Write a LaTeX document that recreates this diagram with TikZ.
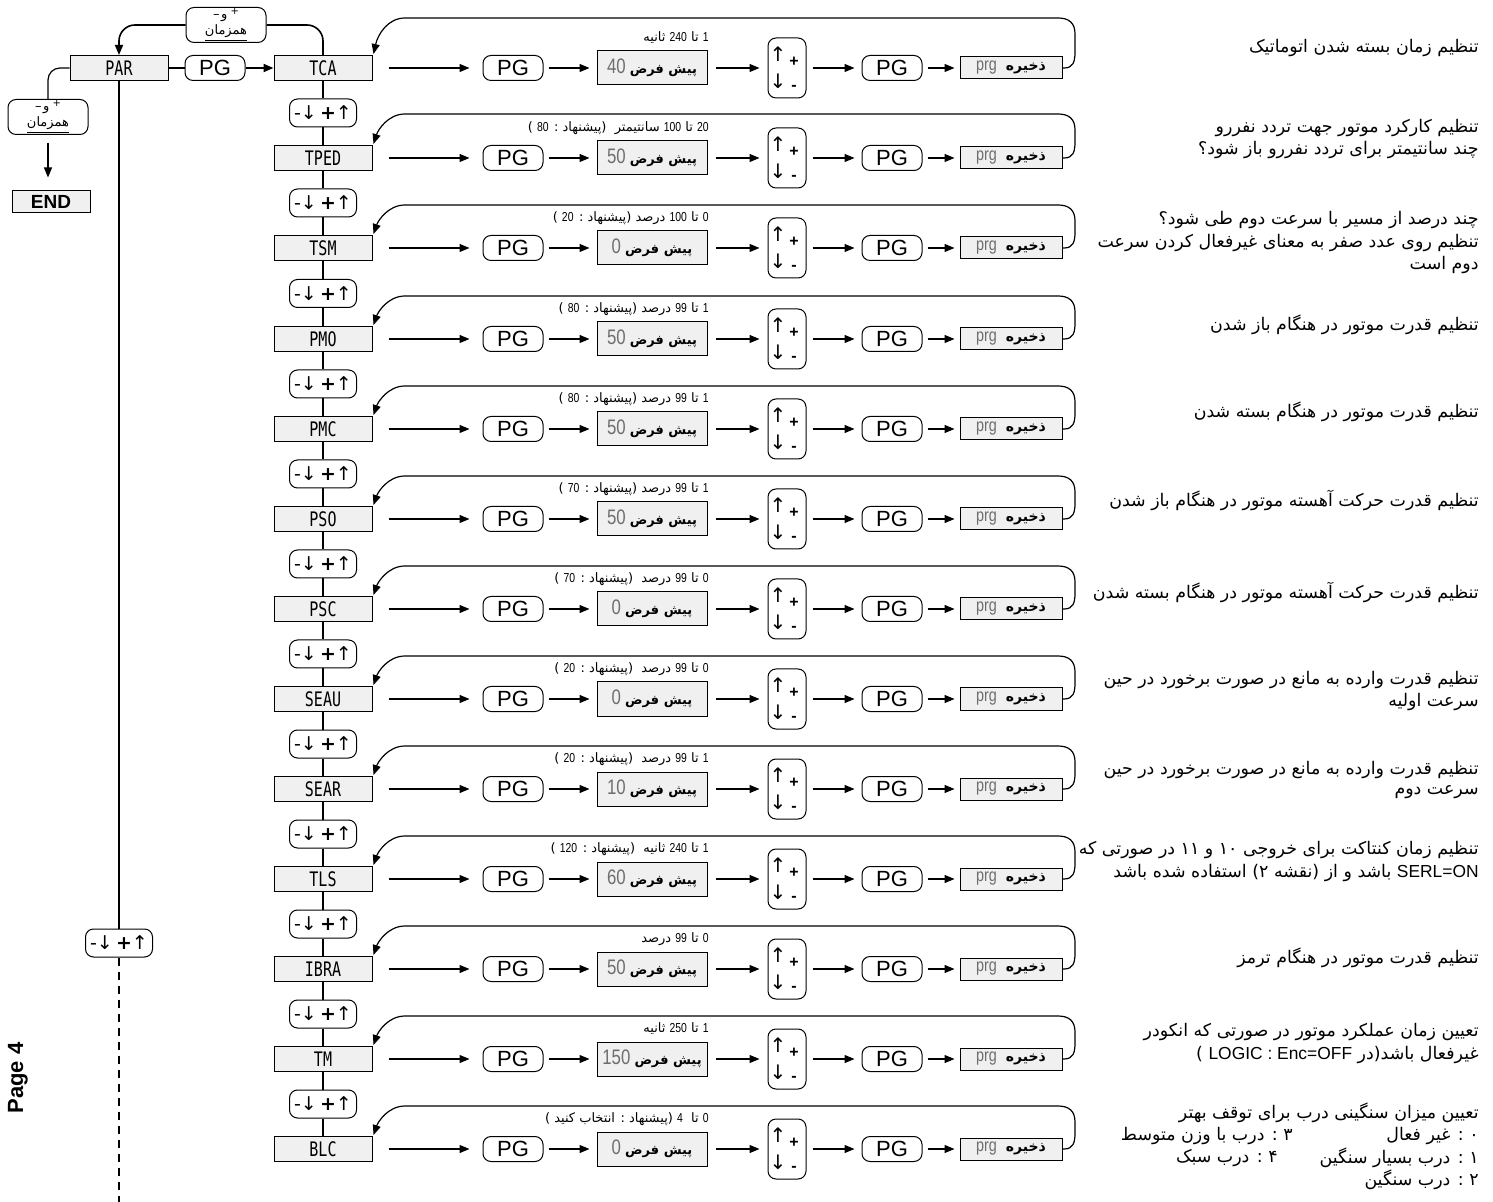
\documentclass[tikz,border=0pt]{standalone}
\usepackage{fontspec}
\usetikzlibrary{arrows.meta,calc}
\setmainfont{Liberation Sans}
\newfontfamily\fa[Script=Arabic]{DejaVu Sans}
\newfontfamily\sym{DejaVu Sans}
\newfontfamily\segf[FakeStretch=0.75]{DejaVu Sans Mono}
\newfontfamily\numf[FakeStretch=0.8]{Liberation Sans}
\TeXXeTstate=1
\newcommand\R[1]{\beginR #1\endR}
\newcommand\nm[1]{{\numf #1}}
\newcommand\syncline{\hbox{\sym –}\hspace{0.8pt}\hbox{\fa و}\hspace{1.5pt}\hbox{\sym\raisebox{2pt}{\fontsize{5}{5}\selectfont +}}}
\definecolor{boxfill}{HTML}{F0F0F0}
\definecolor{numgray}{HTML}{6E6E6E}
\tikzset{
  mainbox/.style={draw, line width=0.5pt, fill=boxfill, minimum width=49pt, minimum height=12.5pt, inner sep=0pt, font=\segf\fontsize{10}{10}\selectfont},
  pgbox/.style={draw, line width=0.5pt, rounded corners=4pt, minimum width=30pt, minimum height=12.5pt, inner sep=0pt, font=\fontsize{11}{11}\selectfont},
  defbox/.style={draw, line width=0.5pt, fill=boxfill, minimum width=55pt, minimum height=17pt, inner sep=0pt, font=\fa\fontsize{6.5}{7}\selectfont},
  udbox/.style={draw, line width=0.5pt, rounded corners=4pt, minimum width=19pt, minimum height=30pt, inner sep=0pt},
  udsym/.style={inner sep=0pt, font=\sym\fontsize{10}{10}\selectfont},
  udsign/.style={inner sep=0pt, font=\bfseries\fontsize{8}{8}\selectfont},
  prgbox/.style={draw, line width=0.5pt, fill=boxfill, minimum width=51pt, minimum height=11pt, inner sep=0pt, font=\fa\fontsize{7}{7}\selectfont},
  kbox/.style={draw, line width=0.5pt, fill=white, rounded corners=4pt, minimum width=33.5pt, minimum height=14pt, inner sep=0pt, font=\sym\fontsize{9.5}{9.5}\selectfont},
  syncbox/.style={draw, line width=0.5pt, fill=white, rounded corners=4pt, minimum width=40pt, minimum height=17.5pt, inner sep=0pt, align=center, font=\fa\fontsize{6.5}{8}\selectfont},
  labf/.style={inner sep=0pt, anchor=east, font=\fa\fontsize{6.5}{7}\selectfont},
  desc/.style={inner sep=0pt, anchor=east, font=\fa\fontsize{8.7}{11}\selectfont},
  arr/.style={-{Triangle[length=5pt,width=4pt]}, line width=0.6pt},
  vline/.style={line width=1pt},
}
% #1 idx, #2 y, #3 name, #4 label, #5 default, #6 top of loop
\newcommand\flowrow[6]{%
  \node[mainbox] (m#1) at (323,#2) {#3};
  \node[pgbox] (pa#1) at (513,#2) {PG};
  \node[defbox] (df#1) at (652,#2) {{\numf\color{numgray}\fontsize{10.5}{10.5}\selectfont #5}\ \R{\bfseries پیش فرض}};
  \node[udbox] (ud#1) at (787,#2) {};
  \node[udsym] (ua#1) at ([shift={(-9,-14)}]ud#1.center) {↑};
  \node[udsym] (ub#1) at ([shift={(-9,13)}]ud#1.center) {↓};
  \node[udsign] (up#1) at ([shift={(7,-6)}]ud#1.center) {+};
  \node[udsign] (um#1) at ([shift={(7,20)}]ud#1.center) {-};
  \node[pgbox] (pb#1) at (892,#2) {PG};
  \node[prgbox] (g#1) at (1011,#2) {{\numf\color{numgray}\fontsize{9}{9}\selectfont prg}\ \ \R{\bfseries ذخیره}};
  \node[labf] (lb#1) at (709,#2-30) {#4};
  \draw[arr, shorten <=8pt, shorten >=6.5pt] (m#1) -- (pa#1);
  \draw[arr, shorten <=2.5pt, shorten >=3.5pt] (pa#1) -- (df#1);
  \draw[arr, shorten <=4pt, shorten >=4pt] (df#1) -- (ud#1);
  \draw[arr, shorten <=3pt, shorten >=3.5pt] (ud#1) -- (pb#1);
  \draw[arr, shorten <=2.5pt, shorten >=2.5pt] (pb#1) -- (g#1);
  \draw[arr] (g#1.east) -- (1064,#2) .. controls (1073,#2) and (1075,#2-6) .. (1075,#2-16)
     -- (1075,#6+16) .. controls (1075,#6+5) and (1069,#6) .. (1058,#6)
     -- (405,#6) .. controls (388,#6) and (378,#6+16) .. ([shift={(1,-1)}]m#1.north east);
}
\begin{document}
\begin{tikzpicture}[x=0.5pt,y=-0.5pt]
\useasboundingbox (0,0) rectangle (1493,1202);
% left column
\node[mainbox] (par) at (119,68) {PAR};
\node[pgbox] (pg0) at (215,68) {PG};
\node[syncbox] (sync1) at (226,25) {\syncline\\\underline{همزمان}};
\node[syncbox] (sync2) at (48,117) {\syncline\\\underline{همزمان}};
\node[draw, line width=0.5pt, fill=boxfill, minimum width=39pt, minimum height=11pt, inner sep=0pt, font=\bfseries\fontsize{9.5}{9.5}\selectfont] (end) at (51,202) {END};
\node[kbox] (k0) at (119,943) {-↓\,\textbf{+}↑};
\coordinate (bot) at (119,1202);
\node[rotate=90, inner sep=0pt, font=\bfseries\fontsize{11}{11}\selectfont] (page) at (18,1078) {Page 4};

% rows
\flowrow{1}{68}{TCA}{\R{\nm{1} تا \nm{240} ثانیه}}{40}{18}
\flowrow{2}{158}{TPED}{\R{\nm{20} تا \nm{100} سانتیمتر \ (پیشنهاد : \nm{80} )}}{50}{114}
\flowrow{3}{248}{TSM}{\R{\nm{0} تا \nm{100} درصد (پیشنهاد : \nm{20} )}}{0}{205}
\flowrow{4}{339}{PMO}{\R{\nm{1} تا \nm{99} درصد (پیشنهاد : \nm{80} )}}{50}{296}
\flowrow{5}{429}{PMC}{\R{\nm{1} تا \nm{99} درصد (پیشنهاد : \nm{80} )}}{50}{386}
\flowrow{6}{519}{PSO}{\R{\nm{1} تا \nm{99} درصد (پیشنهاد : \nm{70} )}}{50}{476}
\flowrow{7}{609}{PSC}{\R{\nm{0} تا \nm{99} درصد \ (پیشنهاد : \nm{70} )}}{0}{566}
\flowrow{8}{699}{SEAU}{\R{\nm{0} تا \nm{99} درصد \ (پیشنهاد : \nm{20} )}}{0}{656}
\flowrow{9}{789}{SEAR}{\R{\nm{1} تا \nm{99} درصد \ (پیشنهاد : \nm{20} )}}{10}{746}
\flowrow{10}{879}{TLS}{\R{\nm{1} تا \nm{240} ثانیه \ (پیشنهاد : \nm{120} )}}{60}{836}
\flowrow{11}{969}{IBRA}{\R{\nm{0} تا \nm{99} درصد}}{50}{926}
\flowrow{12}{1059}{TM}{\R{\nm{1} تا \nm{250} ثانیه}}{150}{1016}
\flowrow{13}{1149}{BLC}{\R{\nm{0} تا \ \nm{4} (پیشنهاد : انتخاب کنید )}}{0}{1106}

% main column key boxes and line
\foreach \i [evaluate=\i as \j using int(\i+1)] in {1,...,12} {
  \node[kbox] (k\i) at ($(m\i)!0.5!(m\j)$) {-↓\,\textbf{+}↑};
  \draw[vline] (m\i) -- (k\i);
  \draw[vline] (k\i) -- (m\j);
}

% left column connectors
\draw[vline] (par) -- (pg0);
\draw[vline, -{Triangle[length=5pt,width=4pt]}] (pg0) -- (m1);
\draw[line width=0.8pt, rounded corners=8pt] (m1.north) |- (sync1.east);
\draw[line width=0.8pt, rounded corners=8pt, -{Triangle[length=5pt,width=4pt]}] (sync1.west) -| (par.north);
\draw[line width=0.6pt, rounded corners=6pt] (par.west) -| (sync2.north);
\draw[arr, shorten <=4pt, shorten >=6.5pt] (sync2.south) -- (sync2.south |- end.north);
\draw[vline] (par) -- (k0);
\draw[line width=0.6pt, dash pattern=on 4pt off 3pt] (k0) -- (bot);

% descriptions
\node[desc] (d1a) at (1479,48) {\R{تنظیم زمان بسته شدن اتوماتیک}};
\node[desc] (d2a) at (1479,128) {\R{تنظیم کارکرد موتور جهت تردد نفررو}};
\node[desc] (d2b) at (1479,150) {\R{چند سانتیمتر برای تردد نفررو باز شود؟}};
\node[desc] (d3a) at (1479,220) {\R{چند درصد از مسیر با سرعت دوم طی شود؟}};
\node[desc] (d3b) at (1479,243) {\R{تنظیم روی عدد صفر به معنای غیرفعال کردن سرعت}};
\node[desc] (d3c) at (1479,265) {\R{دوم است}};
\node[desc] (d4a) at (1479,325) {\R{تنظیم قدرت موتور در هنگام باز شدن}};
\node[desc] (d5a) at (1479,412) {\R{تنظیم قدرت موتور در هنگام بسته شدن}};
\node[desc] (d6a) at (1479,500) {\R{تنظیم قدرت حرکت آهسته موتور در هنگام باز شدن}};
\node[desc] (d7a) at (1479,592) {\R{تنظیم قدرت حرکت آهسته موتور در هنگام بسته شدن}};
\node[desc] (d8a) at (1479,680) {\R{تنظیم قدرت وارده به مانع در صورت برخورد در حین}};
\node[desc] (d8b) at (1479,702) {\R{سرعت اولیه}};
\node[desc] (d9a) at (1479,770) {\R{تنظیم قدرت وارده به مانع در صورت برخورد در حین}};
\node[desc] (d9b) at (1479,792) {\R{سرعت دوم}};
\node[desc] (d10a) at (1479,850) {\R{تنظیم زمان کنتاکت برای خروجی ۱۰ و ۱۱ در صورتی که}};
\node[desc] (d10b) at (1479,873) {\R{{\rmfamily SERL=ON} باشد و از (نقشه ۲) استفاده شده باشد}};
\node[desc] (d11a) at (1479,958) {\R{تنظیم قدرت موتور در هنگام ترمز}};
\node[desc] (d12a) at (1479,1032) {\R{تعیین زمان عملکرد موتور در صورتی که انکودر}};
\node[desc] (d12b) at (1479,1055) {\R{غیرفعال باشد(در \beginL{\rmfamily LOGIC : Enc=OFF}\endL{} )}};
\node[desc] (d13a) at (1479,1113) {\R{تعیین میزان سنگینی درب برای توقف بهتر}};
\node[desc] (d13b) at (1479,1136) {\R{۰ : غیر فعال}};
\node[desc] (d13c) at (1293,1136) {\R{۳ : درب با وزن متوسط}};
\node[desc] (d13d) at (1479,1158) {\R{۱ : درب بسیار سنگین}};
\node[desc] (d13e) at (1278,1158) {\R{۴ : درب سبک}};
\node[desc] (d13f) at (1479,1180) {\R{۲ : درب سنگین}};
\end{tikzpicture}
\end{document}
